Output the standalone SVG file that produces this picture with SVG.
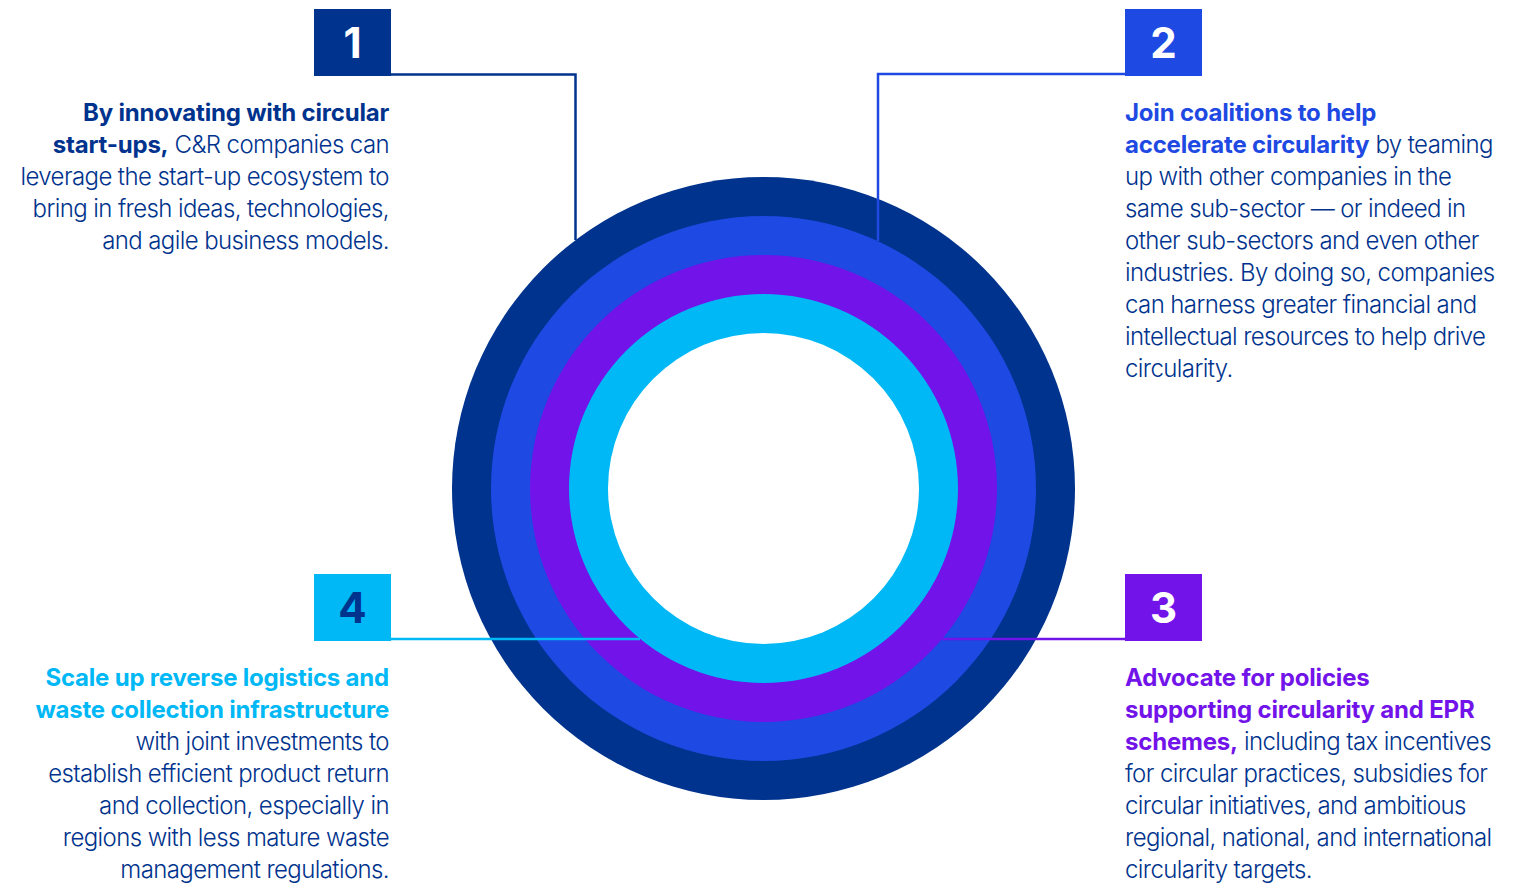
<svg xmlns="http://www.w3.org/2000/svg" width="1518" height="883" viewBox="0 0 1518 883">
<style>
.t{font-family:Inter,"Liberation Sans",sans-serif;font-size:24px;font-weight:300;fill:#00338D;letter-spacing:-0.6px}
.b{font-weight:700;letter-spacing:-0.2px}
.num{font-family:Inter,"Liberation Sans",sans-serif;font-size:42px;font-weight:700;text-anchor:middle}
.r{text-anchor:end}
.ln{fill:none;stroke-width:2.5}
</style>
<rect width="1518" height="883" fill="#fff"/>
<g id="rings">
<circle cx="763.5" cy="488.5" r="311.5" fill="#00338D"/>
<circle cx="763.5" cy="488.5" r="272.5" fill="#1E49E2"/>
<circle cx="763.5" cy="488.5" r="233.5" fill="#7213EA"/>
<circle cx="763.5" cy="488.5" r="194.5" fill="#00B8F5"/>
<circle cx="763.5" cy="488.5" r="155.5" fill="#fff"/>
</g>
<g id="connectors">
<polyline class="ln" stroke="#00338D" points="391,74.5 575.5,74.5 575.5,240"/>
<polyline class="ln" stroke="#1E49E2" points="1125,74 878,74 878,241"/>
<line class="ln" stroke="#00B8F5" x1="391" y1="639" x2="640" y2="639"/>
<line class="ln" stroke="#7213EA" x1="1125" y1="639" x2="942" y2="639"/>
</g>
<g id="node1">
<rect x="314" y="9" width="77" height="67" fill="#00338D"/>
<text class="num" x="352.5" y="58" fill="#fff">1</text>
<text class="t r" x="389" y="121"><tspan class="b">By innovating with circular</tspan></text>
<text class="t r" x="389" y="153"><tspan class="b">start-ups,</tspan> C&amp;R companies can</text>
<text class="t r" x="389" y="185">leverage the start-up ecosystem to</text>
<text class="t r" x="389" y="217">bring in fresh ideas, technologies,</text>
<text class="t r" x="389" y="249">and agile business models.</text>
</g>
<g id="node2">
<rect x="1125" y="9" width="77" height="67" fill="#1E49E2"/>
<text class="num" x="1163.5" y="58" fill="#fff">2</text>
<text class="t" x="1125" y="121"><tspan class="b" fill="#1E49E2">Join coalitions to help</tspan></text>
<text class="t" x="1125" y="153"><tspan class="b" fill="#1E49E2">accelerate circularity</tspan> by teaming</text>
<text class="t" x="1125" y="185">up with other companies in the</text>
<text class="t" x="1125" y="217">same sub-sector — or indeed in</text>
<text class="t" x="1125" y="249">other sub-sectors and even other</text>
<text class="t" x="1125" y="281">industries. By doing so, companies</text>
<text class="t" x="1125" y="313">can harness greater financial and</text>
<text class="t" x="1125" y="345">intellectual resources to help drive</text>
<text class="t" x="1125" y="377">circularity.</text>
</g>
<g id="node3">
<rect x="1125" y="574" width="77" height="67" fill="#7213EA"/>
<text class="num" x="1163.5" y="623" fill="#fff">3</text>
<text class="t" x="1125" y="686"><tspan class="b" fill="#7213EA">Advocate for policies</tspan></text>
<text class="t" x="1125" y="718"><tspan class="b" fill="#7213EA">supporting circularity and EPR</tspan></text>
<text class="t" x="1125" y="750"><tspan class="b" fill="#7213EA">schemes,</tspan> including tax incentives</text>
<text class="t" x="1125" y="782">for circular practices, subsidies for</text>
<text class="t" x="1125" y="814">circular initiatives, and ambitious</text>
<text class="t" x="1125" y="846">regional, national, and international</text>
<text class="t" x="1125" y="878">circularity targets.</text>
</g>
<g id="node4">
<rect x="314" y="574" width="77" height="67" fill="#00B8F5"/>
<text class="num" x="352.5" y="623" fill="#00338D">4</text>
<text class="t r" x="389" y="686"><tspan class="b" fill="#00B8F5">Scale up reverse logistics and</tspan></text>
<text class="t r" x="389" y="718"><tspan class="b" fill="#00B8F5">waste collection infrastructure</tspan></text>
<text class="t r" x="389" y="750">with joint investments to</text>
<text class="t r" x="389" y="782">establish efficient product return</text>
<text class="t r" x="389" y="814">and collection, especially in</text>
<text class="t r" x="389" y="846">regions with less mature waste</text>
<text class="t r" x="389" y="878">management regulations.</text>
</g>
</svg>
